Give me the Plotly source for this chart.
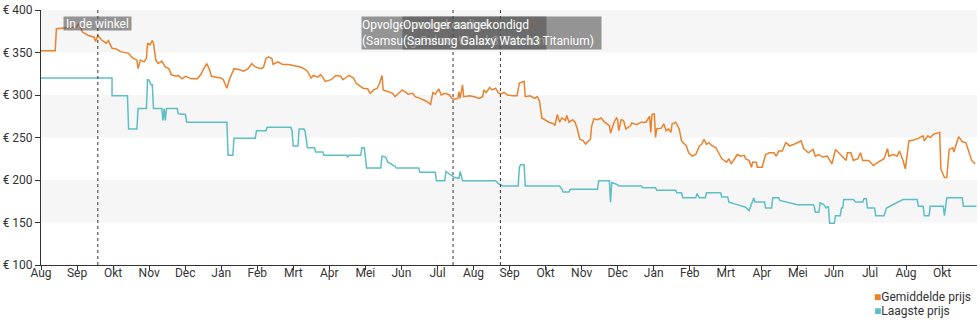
import plotly.graph_objects as go

# ---- data (x = days since start of chart, y = price in EUR) ----
gem_dag = [0, 12, 13, 25, 30, 32, 35, 40, 45, 46, 48, 51, 55, 57, 60, 64, 67, 74, 77, 81, 82, 84, 87, 89, 90, 92, 94, 95, 97, 99,
           102, 105, 108, 110, 114, 116, 119, 122, 127, 132, 135, 137, 140, 142, 144, 148, 152, 154, 157, 159, 163, 167, 171, 175,
           178, 181, 186, 188, 190, 192, 195, 196, 200, 204, 209, 215, 219, 222, 225, 228, 230, 234, 236, 238, 240, 245, 249, 253,
           255, 257, 260, 264, 266, 268, 272, 276, 278, 281, 284, 286, 288, 289, 293, 297, 299, 302, 305, 308, 310, 314, 316, 320,
           325, 329, 330, 331, 333, 336, 338, 341, 345, 347, 349, 352, 353, 354, 356, 357, 362, 366, 370, 373, 374, 376, 379, 381,
           384, 386, 388, 391, 394, 398, 402, 404, 408, 409, 413, 417, 419, 421, 423, 426, 429, 433, 434, 436, 438, 440, 443, 444,
           446, 449, 451, 453, 455, 458, 460, 461, 464, 465, 467, 470, 473, 476, 480, 481, 484, 486, 487, 488, 490, 492, 494, 498,
           499, 503, 507, 511, 514, 515, 516, 518, 519, 520, 524, 526, 528, 530, 532, 533, 536, 539, 541, 545, 547, 550, 553, 556,
           558, 560, 562, 564, 567, 570, 573, 575, 579, 581, 583, 585, 588, 591, 594, 595, 598, 600, 601, 604, 605, 609, 612, 615,
           619, 621, 623, 626, 627, 629, 631, 632, 636, 639, 642, 644, 648, 652, 654, 657, 660, 664, 668, 671, 674, 677, 680, 681,
           684, 686, 690, 692, 694, 699, 703, 707, 712, 715, 716, 720, 723, 725, 728, 730, 733, 737, 741, 745, 746, 749, 751, 754,
           758, 759, 760, 761, 763, 765, 767, 770, 771, 772, 775, 778, 781, 783, 786, 789]
gem_prijs = [352, 352, 378, 379, 380, 384, 374, 370, 368, 363, 370, 365, 361, 364, 355, 354, 351, 349, 344, 341, 331, 341, 339, 343, 361, 359,
             364, 361, 341, 337, 340, 333, 331, 324, 322, 323, 319, 322, 319, 319, 324, 330, 337, 331, 322, 321, 320, 318, 308, 318,
             331, 330, 328, 331, 337, 333, 331, 333, 343, 345, 343, 336, 339, 336, 336, 334, 333, 331, 328, 320, 323, 321, 324, 321,
             316, 318, 323, 322, 318, 320, 323, 320, 314, 312, 308, 307, 302, 306, 308, 314, 323, 306, 304, 302, 298, 302, 306, 303,
             301, 302, 298, 296, 293, 289, 298, 303, 301, 307, 300, 302, 300, 296, 295, 296, 304, 296, 312, 298, 299, 298, 296, 298,
             306, 303, 309, 306, 308, 303, 301, 303, 300, 299, 299, 314, 316, 298, 299, 296, 298, 293, 273, 270, 268, 266, 264, 277,
             268, 273, 270, 276, 268, 271, 268, 260, 248, 246, 242, 244, 248, 263, 272, 271, 273, 268, 264, 255, 268, 273, 271, 258,
             271, 270, 260, 264, 267, 265, 268, 268, 275, 256, 277, 278, 250, 260, 261, 266, 258, 260, 256, 266, 268, 260, 246, 240,
             232, 228, 230, 240, 242, 248, 242, 244, 240, 238, 230, 225, 221, 225, 219, 224, 230, 228, 229, 225, 223, 215, 221, 221,
             215, 215, 230, 232, 232, 228, 234, 234, 238, 244, 242, 240, 242, 244, 246, 237, 232, 236, 228, 230, 227, 228, 219, 236,
             232, 228, 223, 232, 232, 223, 225, 232, 223, 223, 217, 221, 225, 237, 228, 230, 228, 234, 223, 213, 246, 247, 249, 252,
             246, 252, 250, 254, 256, 256, 213, 209, 203, 203, 236, 238, 233, 238, 251, 245, 244, 236, 223, 219]

laag_dag = [0, 60, 60, 73, 74, 81, 82, 89, 90, 91, 93, 94, 95, 102, 103, 104, 105, 106, 115, 116, 122, 123, 157, 158, 162, 163,
            181, 182, 190, 191, 211, 212, 213, 217, 218, 222, 223, 225, 231, 232, 238, 239, 258, 259, 260, 270, 271, 273, 275, 287,
            288, 291, 293, 297, 299, 300, 319, 320, 333, 334, 341, 342, 344, 346, 349, 353, 354, 356, 384, 386, 390, 403, 404, 405,
            408, 409, 438, 440, 441, 446, 447, 470, 471, 480, 481, 482, 486, 488, 507, 508, 519, 520, 536, 537, 541, 542, 553, 554,
            556, 561, 562, 574, 575, 580, 581, 588, 595, 598, 600, 601, 602, 603, 611, 612, 617, 618, 623, 624, 631, 639, 652, 653,
            654, 657, 658, 661, 663, 665, 666, 670, 671, 675, 676, 677, 678, 686, 688, 694, 695, 697, 698, 704, 705, 712, 714, 718,
            723, 728, 740, 741, 745, 746, 750, 751, 762, 763, 765, 778, 779, 790]
laag_prijs = [320, 320, 299, 299, 260, 260, 284, 284, 318, 318, 312, 312, 284, 284, 270, 284, 270, 284, 284, 278, 277, 268, 268, 229, 229, 249,
              249, 258, 258, 262, 262, 258, 240, 240, 260, 260, 258, 238, 238, 233, 233, 229, 229, 227, 229, 229, 238, 238, 214, 214,
              228, 227, 221, 218, 216, 214, 214, 209, 209, 199, 199, 210, 208, 205, 203, 202, 210, 199, 199, 196, 193, 193, 215, 218,
              218, 193, 193, 189, 186, 186, 189, 189, 199, 199, 174, 197, 195, 193, 193, 191, 191, 188, 188, 185, 185, 179, 179, 184,
              179, 179, 185, 185, 180, 180, 174, 171, 168, 164, 171, 174, 179, 174, 174, 167, 167, 179, 179, 176, 174, 171, 171, 169,
              162, 162, 173, 171, 167, 169, 149, 149, 158, 158, 167, 167, 177, 177, 174, 174, 178, 178, 167, 167, 158, 158, 167, 170,
              173, 177, 177, 169, 169, 158, 158, 169, 169, 158, 179, 179, 169, 169]

maanden = ["Aug", "Sep", "Okt", "Nov", "Dec", "Jan", "Feb", "Mrt", "Apr", "Mei", "Jun", "Jul", "Aug",
           "Sep", "Okt", "Nov", "Dec", "Jan", "Feb", "Mrt", "Apr", "Mei", "Jun", "Jul", "Aug", "Okt"]
y_ticks = [100, 150, 200, 250, 300, 350, 400]

gebeurtenis_dag = [48, 348, 388]
gebeurtenis_tekst = ["In de winkel",
                     "Opvolger aangekondigd<br>(Samsung Galaxy Watch3 Titanium)",
                     "Opvolger aangekondigd<br>(Samsung Galaxy Watch3 Titanium)"]

ORANJE = "#e8822c"
TEAL = "#5dbec6"
DAG_PER_MAAND = 30.44
FONT = "Roboto"

fig = go.Figure()
fig.add_trace(go.Scatter(x=gem_dag, y=gem_prijs, mode="lines", name="Gemiddelde prijs",
                         line=dict(color=ORANJE, width=1.5), showlegend=False))
fig.add_trace(go.Scatter(x=laag_dag, y=laag_prijs, mode="lines", name="Laagste prijs",
                         line=dict(color=TEAL, width=1.5), showlegend=False))

shapes = []
for lo in (150, 250, 350):
    shapes.append(dict(type="rect", xref="paper", yref="y", x0=0, x1=1, y0=lo, y1=lo + 50,
                       fillcolor="#f6f6f6", line=dict(width=0), layer="below"))
for d in gebeurtenis_dag:
    shapes.append(dict(type="line", xref="x", yref="y", x0=d, x1=d, y0=100, y1=400,
                       line=dict(color="#333333", width=1, dash="dot"), layer="above"))

BOX = "rgba(78,78,78,0.58)"
WIT = dict(family=FONT, size=12, color="white")
common = dict(y=1, yref="paper", yanchor="top", yshift=-6, showarrow=False, borderpad=0, xref="x")
annotations = [
    dict(x=gebeurtenis_dag[0], xanchor="center", text=gebeurtenis_tekst[0], bgcolor=BOX,
         width=67, height=13, font=WIT, **common),
    # first "Opvolger" label: box, then text (partly hidden under the second label)
    dict(x=gebeurtenis_dag[1], xanchor="left", xshift=-92, text=" ", bgcolor=BOX,
         width=239, height=32, font=WIT, **common),
    dict(x=gebeurtenis_dag[1], xanchor="left", xshift=-92, text=gebeurtenis_tekst[1],
         width=183, height=32, align="left", font=WIT, **common),
    # second "Opvolger" label: box, then text
    dict(x=gebeurtenis_dag[2], xanchor="left", xshift=-98, text=" ", bgcolor=BOX,
         width=143, height=32, font=WIT, **common),
    dict(x=gebeurtenis_dag[2], xanchor="left", xshift=-98, text=gebeurtenis_tekst[2],
         height=32, align="left", font=WIT, **common),
]
# legend-style labels (bottom right)
for i, (naam, kleur) in enumerate([("Gemiddelde prijs", ORANJE), ("Laagste prijs", TEAL)]):
    annotations.append(dict(
        x=0.888, xref="paper", y=-0.1245 - i * 0.0545, yref="paper", xanchor="left", yanchor="middle",
        text=f'<span style="color:{kleur}">■</span>{naam}', showarrow=False,
        font=dict(family=FONT, size=12, color="#333333")))

fig.update_layout(
    width=980, height=325,
    margin=dict(l=40, r=3, t=8, b=60),
    paper_bgcolor="white", plot_bgcolor="white",
    font=dict(family=FONT, size=12, color="#333333"),
    shapes=shapes, annotations=annotations, showlegend=False,
    xaxis=dict(range=[0, 790.5], tickvals=[i * DAG_PER_MAAND for i in range(len(maanden))],
               ticktext=maanden, showgrid=False, zeroline=False, showline=True,
               linecolor="#333333", linewidth=1, ticks="outside", ticklen=4, tickcolor="#333333",
               ticklabelstandoff=-7,
               tickfont=dict(family=FONT, size=12, color="#333333")),
    yaxis=dict(range=[100, 400], tickvals=y_ticks, ticktext=[f"€ {v}" for v in y_ticks],
               showgrid=False, zeroline=False, showline=True, linecolor="#333333", linewidth=1,
               ticks="outside", ticklen=5, tickcolor="#333333",
               tickfont=dict(family=FONT, size=12, color="#333333")),
)

fig.write_html("out.html")
